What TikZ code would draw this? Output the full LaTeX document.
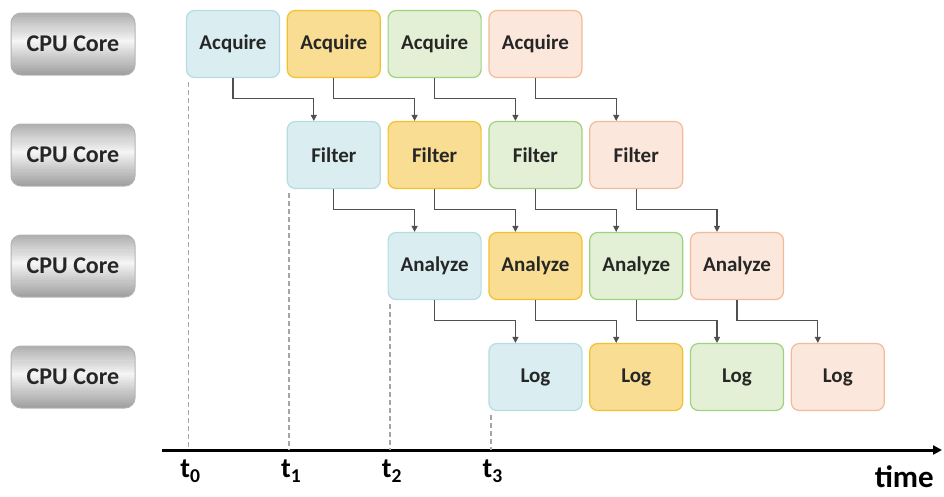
\documentclass[tikz,border=0pt]{standalone}
\usepackage{fontspec}
\setmainfont{Carlito}
\usetikzlibrary{arrows.meta,calc}
\definecolor{bluefill}{HTML}{DAEEF1}
\definecolor{blueline}{HTML}{B5DCE2}
\definecolor{yellowfill}{HTML}{F8DD92}
\definecolor{yellowline}{HTML}{F2C12E}
\definecolor{greenfill}{HTML}{E3F0D6}
\definecolor{greenline}{HTML}{9ED27C}
\definecolor{peachfill}{HTML}{FBE7DB}
\definecolor{peachline}{HTML}{F3BB98}
\definecolor{flowgray}{HTML}{505050}
\definecolor{silverdark}{HTML}{9C9C9C}
\definecolor{silverlight}{HTML}{F6F6F6}
\tikzset{
  corebox/.style={rounded corners=10pt,minimum width=124pt,minimum height=62pt,
    draw=gray!60,line width=1pt,
    font=\fontsize{24}{26}\selectfont\bfseries,text=black!85},
  stagebox/.style={rounded corners=8pt,minimum width=93pt,minimum height=67pt,
    line width=1.2pt,font=\fontsize{21}{23}\selectfont\bfseries,text=black!85},
  flow/.style={draw=flowgray,line width=1.1pt,-{Triangle[length=6pt,width=6pt]}},
  tickline/.style={draw=gray!70,line width=1.5pt,dash pattern=on 5pt off 3pt},
  tlabel/.style={font=\fontsize{28}{30}\selectfont\bfseries,inner sep=0pt}
}
\begin{document}
\begin{tikzpicture}[x=1pt,y=-1pt]
  \useasboundingbox (0,0) rectangle (944,496);
  % cores and stages
  \foreach \lab [count=\r] in {Acquire,Filter,Analyze,Log} {
    \pgfmathsetmacro\yy{44+111*(\r-1)}
    % silver face of the core button
    \begin{scope}
      \clip[rounded corners=10pt] (11,\yy-31) rectangle (135,\yy+31);
      \foreach \i in {0,...,29} {
        \pgfmathtruncatemacro\m{max(0,100*(1-abs(\i/29-0.45)/0.58))}
        \fill[silverlight!\m!silverdark] (11,{\yy-31+\i*62/30}) rectangle (135,{\yy-31+(\i+1.1)*62/30});
      }
    \end{scope}
    \node[corebox] (core-\r) at (73,\yy) {CPU Core};
    \foreach \col [count=\c] in {blue,yellow,green,peach}
      \node[stagebox,fill=\col fill,draw=\col line] (st-\r-\c)
        at ({233+100.8*(\r+\c-2)},\yy) {\lab};
  }
  % hand-over between stages
  \foreach \r in {1,2,3} {
    \pgfmathtruncatemacro\nxt{\r+1}
    \foreach \c in {1,...,4}
      \draw[flow] (st-\r-\c.south) -- ++(0,20) -| ([xshift=-20pt]st-\nxt-\c.north);
  }
  % time axis
  \coordinate (axL) at (162,450);
  \coordinate (axR) at (942,450);
  \draw[line width=3pt,-{Triangle[length=9pt,width=9pt]}] (axL) -- (axR);
  \foreach \r in {1,...,4} {
    \pgfmathtruncatemacro\idx{\r-1}
    \coordinate (top-\r) at ([xshift=2.5pt,yshift=-4pt]st-\r-1.south west);
    \draw[tickline] (top-\r) -- (top-\r |- axL);
    \node[tlabel,anchor=north] (t-\r) at ([xshift=2pt,yshift=-10pt]top-\r |- axL) {t\textsubscript{\idx}};
  }
  \node[tlabel,font=\fontsize{31}{33}\selectfont\bfseries,anchor=base east] (time) at (934,487) {time};
\end{tikzpicture}
\end{document}
